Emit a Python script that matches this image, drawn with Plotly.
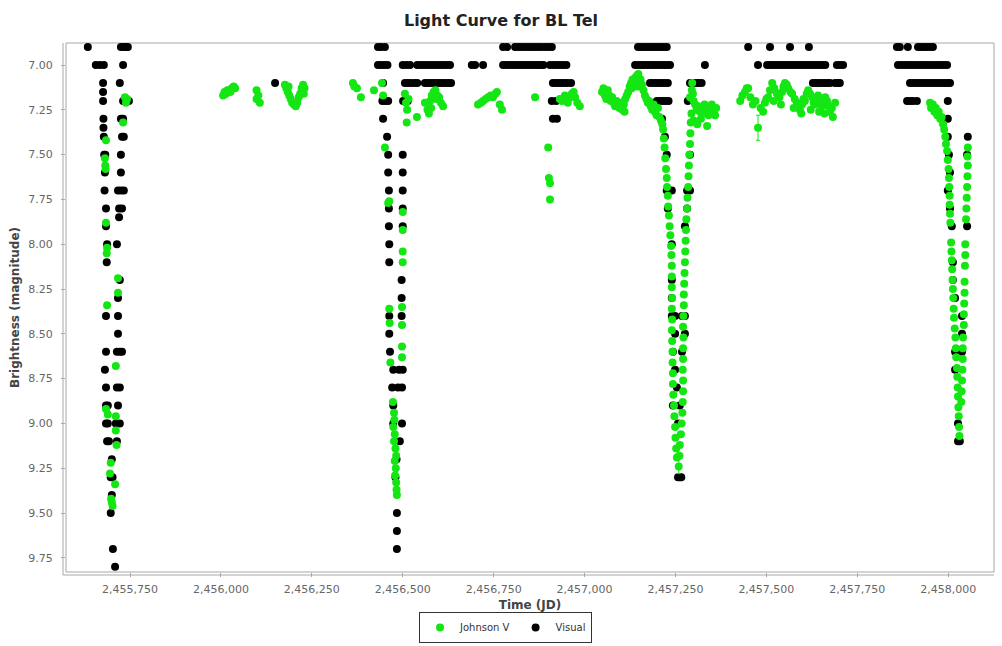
import plotly.graph_objects as go

# ---------------------------------------------------------------
# BL Tel observations: (Julian Date, magnitude) per observing season
# ---------------------------------------------------------------

# Visual estimates
visual_season1 = [
    (2455634, 6.9),
    (2455656, 7.0), (2455667, 7.0), (2455678, 7.0),
    (2455676, 7.1), (2455676, 7.15), (2455676, 7.2), (2455677, 7.3), (2455677, 7.35),
    (2455678, 7.4), (2455679, 7.5), (2455682, 7.5), (2455681, 7.6), (2455680, 7.7),
    (2455684, 7.8), (2455684, 7.9), (2455687, 8.0), (2455686, 8.1), (2455684, 8.4),
    (2455684, 8.6), (2455681, 8.7), (2455684, 8.8), (2455684, 8.9), (2455689, 8.9),
    (2455684, 9.0), (2455689, 9.0), (2455687, 9.1), (2455692, 9.1), (2455700, 9.2),
    (2455697, 9.3), (2455702, 9.3), (2455700, 9.4), (2455697, 9.5), (2455703, 9.7),
    (2455709, 9.8),
    (2455725, 6.9), (2455733, 6.9), (2455739, 6.9), (2455744, 6.9), (2455731, 7.0),
    (2455722, 7.1), (2455731, 7.2), (2455742, 7.2), (2455747, 7.2), (2455725, 7.3),
    (2455731, 7.3), (2455728, 7.4), (2455733, 7.4), (2455725, 7.5), (2455725, 7.6),
    (2455717, 7.7), (2455725, 7.7), (2455733, 7.7), (2455720, 7.8), (2455728, 7.8),
    (2455720, 7.85), (2455714, 8.0), (2455722, 8.2), (2455717, 8.3), (2455717, 8.4),
    (2455717, 8.5), (2455714, 8.6), (2455722, 8.6), (2455728, 8.6), (2455714, 8.8),
    (2455722, 8.8), (2455717, 8.9), (2455711, 9.0), (2455722, 9.0), (2455714, 9.1),
]

visual_season2 = [(2456149, 7.1)]

visual_season3 = [
    (2456432, 6.9), (2456440, 6.9), (2456451, 6.9),
    (2456432, 7.0), (2456440, 7.0), (2456449, 7.0), (2456458, 7.0),
    (2456446, 7.1), (2456444, 7.2), (2456452, 7.2), (2456460, 7.2), (2456446, 7.3),
    (2456457, 7.4), (2456460, 7.5), (2456460, 7.6), (2456462, 7.7), (2456462, 7.8),
    (2456462, 7.9), (2456463, 8.0), (2456463, 8.1), (2456463, 8.4), (2456463, 8.5),
    (2456465, 8.6), (2456474, 8.7), (2456490, 8.7), (2456500, 8.7), (2456471, 8.8),
    (2456487, 8.8), (2456498, 8.8), (2456474, 8.9), (2456474, 9.0), (2456498, 9.0),
    (2456492, 9.1), (2456483, 9.2), (2456480, 9.3), (2456484, 9.5), (2456484, 9.6),
    (2456484, 9.7),
    (2456500, 7.5), (2456500, 7.6), (2456500, 7.7), (2456500, 7.8), (2456500, 7.9),
    (2456497, 8.2), (2456497, 8.3), (2456497, 8.4),
    (2456500, 7.0), (2456510, 7.0), (2456520, 7.0),
    (2456540, 7.0), (2456549, 7.0), (2456558, 7.0), (2456567, 7.0), (2456576, 7.0),
    (2456585, 7.0), (2456594, 7.0), (2456603, 7.0), (2456612, 7.0), (2456621, 7.0),
    (2456630, 7.0), (2456690, 7.0), (2456699, 7.0), (2456721, 7.0),
    (2456776, 7.0), (2456784, 7.0), (2456792, 7.0), (2456800, 7.0), (2456808, 7.0),
    (2456816, 7.0), (2456824, 7.0), (2456832, 7.0), (2456840, 7.0), (2456848, 7.0),
    (2456856, 7.0), (2456864, 7.0), (2456872, 7.0), (2456880, 7.0), (2456887, 7.0),
    (2456905, 7.0), (2456914, 7.0), (2456923, 7.0), (2456932, 7.0), (2456941, 7.0),
    (2456950, 7.0),
    (2456506, 7.1), (2456514, 7.1), (2456522, 7.1), (2456532, 7.1), (2456540, 7.1),
    (2456561, 7.1), (2456569, 7.1), (2456577, 7.1), (2456585, 7.1), (2456593, 7.1),
    (2456601, 7.1), (2456609, 7.1), (2456617, 7.1), (2456625, 7.1), (2456633, 7.1),
    (2456913, 7.1), (2456921, 7.1), (2456929, 7.1), (2456937, 7.1), (2456945, 7.1),
    (2456953, 7.1), (2456963, 7.1),
    (2456776, 6.9), (2456787, 6.9), (2456809, 6.9), (2456818, 6.9), (2456827, 6.9),
    (2456836, 6.9), (2456845, 6.9), (2456854, 6.9), (2456863, 6.9), (2456872, 6.9),
    (2456881, 6.9), (2456891, 6.9), (2456900, 6.9), (2456910, 6.9),
    (2456501, 7.2), (2456514, 7.2), (2456910, 7.2), (2456922, 7.2), (2456952, 7.2),
    (2456913, 7.3), (2456924, 7.3),
]

visual_season4 = [
    (2457147, 6.9), (2457155, 6.9), (2457163, 6.9), (2457171, 6.9), (2457179, 6.9),
    (2457187, 6.9), (2457195, 6.9), (2457203, 6.9), (2457211, 6.9), (2457219, 6.9),
    (2457226, 6.9),
    (2457139, 7.0), (2457147, 7.0), (2457155, 7.0), (2457163, 7.0), (2457171, 7.0),
    (2457179, 7.0), (2457187, 7.0), (2457195, 7.0), (2457203, 7.0), (2457211, 7.0),
    (2457219, 7.0), (2457227, 7.0), (2457235, 7.0), (2457331, 7.0),
    (2457180, 7.1), (2457188, 7.1), (2457196, 7.1), (2457204, 7.1), (2457212, 7.1),
    (2457220, 7.1), (2457229, 7.1), (2457290, 7.1), (2457298, 7.1), (2457306, 7.1),
    (2457314, 7.1), (2457322, 7.1),
    (2457199, 7.2), (2457207, 7.2), (2457215, 7.2), (2457223, 7.2), (2457231, 7.2),
    (2457284, 7.2),
    (2457213, 7.3), (2457221, 7.4), (2457226, 7.5), (2457290, 7.5),
    (2457226, 7.7), (2457240, 7.7), (2457282, 7.7), (2457290, 7.7),
    (2457229, 7.8), (2457282, 7.8), (2457276, 7.9), (2457240, 8.0),
    (2457240, 8.2), (2457240, 8.3), (2457240, 8.4), (2457249, 8.4), (2457268, 8.4),
    (2457276, 8.4), (2457249, 8.5), (2457276, 8.5), (2457243, 8.6), (2457268, 8.6),
    (2457249, 8.7), (2457254, 8.8), (2457243, 8.9), (2457262, 8.9), (2457257, 9.0),
    (2457257, 9.3), (2457262, 9.3), (2457266, 9.3),
]

visual_season5 = [
    (2457450, 6.9), (2457510, 6.9), (2457565, 6.9), (2457617, 6.9),
    (2457477, 7.0), (2457502, 7.0), (2457510, 7.0), (2457518, 7.0), (2457526, 7.0),
    (2457534, 7.0), (2457542, 7.0), (2457550, 7.0), (2457558, 7.0), (2457566, 7.0),
    (2457574, 7.0), (2457582, 7.0), (2457590, 7.0), (2457598, 7.0), (2457606, 7.0),
    (2457614, 7.0), (2457622, 7.0), (2457630, 7.0), (2457638, 7.0), (2457646, 7.0),
    (2457654, 7.0), (2457662, 7.0), (2457694, 7.0), (2457702, 7.0), (2457711, 7.0),
    (2457628, 7.1), (2457636, 7.1), (2457644, 7.1), (2457652, 7.1), (2457660, 7.1),
    (2457668, 7.1), (2457675, 7.1), (2457689, 7.1), (2457697, 7.1), (2457702, 7.1),
]

visual_season6 = [
    (2457859, 6.9), (2457867, 6.9), (2457889, 6.9), (2457917, 6.9), (2457925, 6.9),
    (2457933, 6.9), (2457941, 6.9), (2457950, 6.9), (2457958, 6.9),
    (2457862, 7.0), (2457871, 7.0), (2457880, 7.0), (2457889, 7.0), (2457898, 7.0),
    (2457907, 7.0), (2457916, 7.0), (2457925, 7.0), (2457934, 7.0), (2457943, 7.0),
    (2457952, 7.0), (2457961, 7.0), (2457970, 7.0), (2457979, 7.0), (2457988, 7.0),
    (2457997, 7.0),
    (2457895, 7.1), (2457903, 7.1), (2457911, 7.1), (2457919, 7.1), (2457927, 7.1),
    (2457935, 7.1), (2457943, 7.1), (2457951, 7.1), (2457959, 7.1), (2457967, 7.1),
    (2457975, 7.1), (2457983, 7.1), (2457991, 7.1), (2457999, 7.1), (2458005, 7.1),
    (2457887, 7.2), (2457895, 7.2), (2457903, 7.2), (2457914, 7.2), (2457999, 7.2),
    (2457999, 7.3), (2457999, 7.4), (2458054, 7.4), (2458002, 7.5), (2458052, 7.5),
    (2458005, 7.6), (2457999, 7.7), (2458005, 7.8), (2458010, 7.9), (2458052, 7.9),
    (2458013, 8.1), (2458013, 8.2), (2458019, 8.3), (2458038, 8.4), (2458038, 8.5),
    (2458019, 8.6), (2458038, 8.6), (2458019, 8.7), (2458027, 9.0), (2458027, 9.1),
    (2458032, 9.1),
]

# Johnson V photometry
johnson_v_season1 = [
    (2455684, 7.42), (2455681, 7.52), (2455682, 7.56), (2455683, 7.58), (2455684, 7.88),
    (2455687, 8.02), (2455686, 8.05), (2455687, 8.34), (2455684, 8.92), (2455689, 8.95),
    (2455697, 9.22), (2455695, 9.28), (2455698, 9.42), (2455700, 9.44), (2455702, 9.46),
    (2455736, 7.18), (2455742, 7.19), (2455739, 7.21), (2455731, 7.32), (2455717, 8.19),
    (2455717, 8.27), (2455711, 8.68), (2455711, 8.96), (2455711, 9.04), (2455713, 9.12),
    (2455709, 9.34),
]

johnson_v_season2 = [
    (2456006, 7.17), (2456010, 7.15), (2456014, 7.16), (2456018, 7.14), (2456022, 7.14),
    (2456026, 7.15), (2456030, 7.13), (2456035, 7.12), (2456039, 7.13),
    (2456098, 7.14), (2456098, 7.19), (2456103, 7.17), (2456107, 7.21),
    (2456176, 7.11), (2456180, 7.13), (2456184, 7.15), (2456188, 7.17), (2456192, 7.19),
    (2456196, 7.21), (2456201, 7.22), (2456206, 7.23), (2456210, 7.21), (2456214, 7.18),
    (2456218, 7.16), (2456222, 7.13), (2456226, 7.11), (2456230, 7.13), (2456186, 7.12),
    (2456228, 7.16),
]

johnson_v_season3 = [
    (2456363, 7.10), (2456367, 7.12), (2456374, 7.13), (2456385, 7.18), (2456421, 7.14),
    (2456443, 7.10), (2456446, 7.17),
    (2456451, 7.46), (2456460, 7.77), (2456463, 7.76), (2456500, 7.82), (2456500, 7.92),
    (2456500, 8.04), (2456500, 8.10), (2456463, 8.36), (2456464, 8.44), (2456498, 8.35),
    (2456498, 8.45), (2456498, 8.57), (2456498, 8.63), (2456466, 8.66), (2456473, 8.88),
    (2456476, 8.94), (2456477, 8.98), (2456474, 9.02), (2456478, 9.06), (2456476, 9.10),
    (2456480, 9.14), (2456482, 9.18), (2456478, 9.21), (2456481, 9.25), (2456479, 9.29),
    (2456482, 9.33), (2456483, 9.37), (2456484, 9.40),
    (2456506, 7.16), (2456509, 7.21), (2456512, 7.25), (2456516, 7.19), (2456511, 7.32),
    (2456539, 7.29), (2456561, 7.21), (2456568, 7.25), (2456575, 7.20), (2456580, 7.17),
    (2456585, 7.15), (2456590, 7.14), (2456595, 7.17), (2456600, 7.18), (2456605, 7.21),
    (2456611, 7.23), (2456572, 7.27), (2456578, 7.24), (2456592, 7.19),
    (2456707, 7.22), (2456715, 7.21), (2456721, 7.20), (2456728, 7.19), (2456735, 7.18),
    (2456742, 7.17), (2456748, 7.18), (2456755, 7.16), (2456759, 7.15), (2456767, 7.22),
    (2456773, 7.25),
    (2456864, 7.18),
    (2456900, 7.46), (2456902, 7.63), (2456905, 7.66), (2456905, 7.75),
    (2456932, 7.19), (2456938, 7.20), (2456946, 7.17), (2456954, 7.21), (2456960, 7.18),
    (2456965, 7.16), (2456970, 7.15), (2456974, 7.18), (2456980, 7.21), (2456987, 7.23),
]

johnson_v_season4 = [
    (2457048, 7.15), (2457052, 7.13), (2457056, 7.17), (2457060, 7.19), (2457064, 7.14),
    (2457068, 7.17), (2457072, 7.20), (2457076, 7.18), (2457080, 7.21), (2457084, 7.23),
    (2457088, 7.20), (2457092, 7.22), (2457096, 7.24), (2457100, 7.21), (2457104, 7.25),
    (2457108, 7.22), (2457112, 7.19), (2457116, 7.17), (2457120, 7.15), (2457124, 7.12),
    (2457128, 7.10), (2457132, 7.08), (2457136, 7.11), (2457140, 7.07), (2457144, 7.06),
    (2457148, 7.05), (2457150, 7.09), (2457154, 7.08), (2457158, 7.11), (2457162, 7.14),
    (2457166, 7.17), (2457170, 7.19), (2457174, 7.21), (2457178, 7.20), (2457182, 7.23),
    (2457186, 7.25), (2457190, 7.22), (2457194, 7.26), (2457198, 7.28), (2457202, 7.24),
    (2457206, 7.29), (2457210, 7.31), (2457214, 7.33), (2457130, 7.13), (2457142, 7.10),
    (2457146, 7.12), (2457110, 7.26),
    (2457216, 7.36), (2457218, 7.41), (2457220, 7.46), (2457222, 7.52), (2457224, 7.58),
    (2457226, 7.63), (2457227, 7.68), (2457229, 7.73), (2457230, 7.79), (2457232, 7.84),
    (2457234, 7.90), (2457236, 7.95), (2457238, 8.01), (2457239, 8.06), (2457240, 8.12),
    (2457240, 8.18), (2457240, 8.24), (2457241, 8.30), (2457240, 8.36), (2457241, 8.42),
    (2457240, 8.48), (2457241, 8.54), (2457242, 8.60), (2457242, 8.66), (2457243, 8.72),
    (2457243, 8.78), (2457244, 8.84), (2457246, 8.90), (2457247, 8.96), (2457249, 9.02),
    (2457250, 9.08), (2457252, 9.14), (2457254, 9.19),
    (2457261, 9.18), (2457262, 9.12), (2457265, 9.06), (2457267, 9.00),
    (2457269, 8.94), (2457270, 8.88), (2457271, 8.82), (2457271, 8.76), (2457270, 8.70),
    (2457271, 8.64), (2457271, 8.58), (2457272, 8.52), (2457271, 8.46), (2457272, 8.40),
    (2457273, 8.34), (2457273, 8.28), (2457274, 8.22), (2457275, 8.16), (2457276, 8.10),
    (2457277, 8.04), (2457278, 7.98), (2457279, 7.92), (2457280, 7.86), (2457282, 7.80),
    (2457283, 7.74), (2457285, 7.68), (2457286, 7.62), (2457287, 7.56), (2457288, 7.50),
    (2457290, 7.44), (2457291, 7.38), (2457292, 7.32), (2457294, 7.27),
    (2457290, 7.18), (2457295, 7.14), (2457298, 7.16), (2457300, 7.20), (2457304, 7.22),
    (2457308, 7.25), (2457312, 7.23), (2457317, 7.26), (2457320, 7.30), (2457323, 7.27),
    (2457326, 7.24), (2457330, 7.22), (2457335, 7.25), (2457337, 7.34), (2457341, 7.28),
    (2457345, 7.24), (2457350, 7.22), (2457355, 7.25), (2457359, 7.28), (2457362, 7.24),
    (2457300, 7.31), (2457310, 7.33), (2457296, 7.10),
]

johnson_v_season5 = [
    (2457428, 7.20), (2457434, 7.17), (2457441, 7.15), (2457446, 7.13), (2457450, 7.13),
    (2457456, 7.18), (2457463, 7.22), (2457470, 7.20), (2457484, 7.24), (2457491, 7.26),
    (2457496, 7.21), (2457500, 7.19), (2457505, 7.18), (2457510, 7.14), (2457516, 7.10),
    (2457522, 7.13), (2457529, 7.16), (2457536, 7.18), (2457543, 7.15), (2457547, 7.12),
    (2457551, 7.10), (2457556, 7.11), (2457560, 7.13), (2457566, 7.15), (2457571, 7.16),
    (2457578, 7.19), (2457584, 7.21), (2457588, 7.23), (2457592, 7.25), (2457598, 7.22),
    (2457602, 7.19), (2457606, 7.20), (2457611, 7.16), (2457615, 7.14), (2457620, 7.16),
    (2457626, 7.18), (2457630, 7.21), (2457634, 7.22), (2457638, 7.19), (2457642, 7.17),
    (2457647, 7.20), (2457653, 7.23), (2457658, 7.21), (2457662, 7.18), (2457667, 7.20),
    (2457671, 7.23), (2457675, 7.26), (2457680, 7.24), (2457683, 7.29), (2457689, 7.21),
    (2457520, 7.20), (2457540, 7.22), (2457575, 7.24), (2457596, 7.27), (2457622, 7.25),
    (2457645, 7.26), (2457660, 7.27),
]

johnson_v_season6 = [
    (2457950, 7.21), (2457953, 7.24), (2457958, 7.22), (2457962, 7.26), (2457966, 7.24),
    (2457970, 7.28), (2457974, 7.26), (2457978, 7.30), (2457982, 7.29), (2457986, 7.33),
    (2457989, 7.36), (2457992, 7.40), (2457994, 7.44),
    (2457997, 7.48), (2457999, 7.53), (2458001, 7.58), (2458002, 7.63), (2458003, 7.68),
    (2458004, 7.73), (2458004, 7.78), (2458005, 7.83), (2458006, 7.88), (2458008, 7.99),
    (2458009, 8.04), (2458010, 8.09), (2458011, 8.14), (2458012, 8.20), (2458013, 8.25),
    (2458014, 8.30), (2458015, 8.36), (2458016, 8.41), (2458018, 8.47), (2458020, 8.52),
    (2458021, 8.58), (2458022, 8.63), (2458024, 8.69), (2458025, 8.74), (2458026, 8.80),
    (2458027, 8.85), (2458028, 8.91), (2458029, 8.96), (2458030, 9.02), (2458031, 9.07),
    (2458054, 7.46), (2458053, 7.51), (2458054, 7.56), (2458053, 7.62), (2458052, 7.68),
    (2458051, 7.74), (2458050, 7.80), (2458049, 7.86), (2458047, 8.00), (2458047, 8.06),
    (2458046, 8.12), (2458045, 8.21), (2458045, 8.27), (2458044, 8.33), (2458043, 8.39),
    (2458043, 8.45), (2458041, 8.52), (2458040, 8.58), (2458040, 8.64), (2458039, 8.70),
    (2458038, 8.76), (2458037, 8.82), (2458036, 8.88),
]

# Johnson V points carrying a plotted uncertainty: (JD, magnitude, error)
johnson_v_with_error = [
    (2457477, 7.35, 0.07),
    (2457259, 9.24, 0.04),
]

# Axis ticks
x_tick_values = [2455750, 2456000, 2456250, 2456500, 2456750,
                 2457000, 2457250, 2457500, 2457750, 2458000]
y_tick_values = [7.00, 7.25, 7.50, 7.75, 8.00, 8.25, 8.50, 8.75, 9.00, 9.25, 9.50, 9.75]

# ---------------------------------------------------------------
visual = (visual_season1 + visual_season2 + visual_season3 +
          visual_season4 + visual_season5 + visual_season6)
johnson = (johnson_v_season1 + johnson_v_season2 + johnson_v_season3 +
           johnson_v_season4 + johnson_v_season5 + johnson_v_season6)

vis_jd = [p[0] for p in visual]
vis_mag = [p[1] for p in visual]

jv_jd = [p[0] for p in johnson] + [p[0] for p in johnson_v_with_error]
jv_mag = [p[1] for p in johnson] + [p[1] for p in johnson_v_with_error]
jv_err = [0.0] * len(johnson) + [p[2] for p in johnson_v_with_error]

GREEN = "#14e614"
FONT = "Tahoma, 'DejaVu Sans', Verdana, sans-serif"

fig = go.Figure()

fig.add_trace(go.Scatter(
    x=vis_jd, y=vis_mag, mode="markers", name="Visual", legendrank=2,
    marker=dict(color="#000000", size=8, line=dict(width=0)),
))
fig.add_trace(go.Scatter(
    x=jv_jd, y=jv_mag, mode="markers", name="Johnson V", legendrank=1,
    marker=dict(color=GREEN, size=8, line=dict(width=0)),
    error_y=dict(type="data", array=jv_err, visible=True,
                 color=GREEN, thickness=1, width=2),
))

# plot outline plus offset axis lines
px_w, px_h = 928.0, 529.0
off_x, off_y = 3 / px_w, 3 / px_h
fig.add_shape(type="rect", xref="paper", yref="paper", x0=0, x1=1, y0=0, y1=1,
              line=dict(color="#a8a8a8", width=1), layer="below")
fig.add_shape(type="line", xref="paper", yref="paper", x0=-off_x, x1=-off_x, y0=-off_y, y1=1,
              line=dict(color="#a8a8a8", width=1))
fig.add_shape(type="line", xref="paper", yref="paper", x0=-off_x, x1=1, y0=-off_y, y1=-off_y,
              line=dict(color="#a8a8a8", width=1))

fig.update_layout(
    width=1002, height=646,
    margin=dict(l=66, r=8, t=43, b=74, autoexpand=False),
    paper_bgcolor="white", plot_bgcolor="white",
    font=dict(family=FONT, size=11, color="#555555"),
    title=dict(text="<b>Light Curve for BL Tel</b>", x=0.5, xref="container",
               xanchor="center", y=1 - 20 / 646, yref="container", yanchor="middle",
               font=dict(family=FONT, size=16, color="#222222")),
    showlegend=True,
    legend=dict(orientation="h", x=0.5045, xref="container", xanchor="center",
                y=3 / 646, yref="container", yanchor="bottom",
                bordercolor="#333333", borderwidth=1, bgcolor="white",
                font=dict(family=FONT, size=10, color="#333333"),
                itemwidth=30, tracegroupgap=0),
)

fig.update_xaxes(
    range=[2455574, 2458126], showgrid=False, zeroline=False, showline=False,
    automargin=False,
    tickmode="array", tickvals=x_tick_values, tickformat=",d",
    ticks="outside", ticklen=4, tickcolor="#a8a8a8", ticklabelstandoff=3,
    tickfont=dict(family=FONT, size=11, color="#666666"),
    title=dict(text="<b>Time (JD)</b>", standoff=6,
               font=dict(family=FONT, size=12, color="#444444")),
)
fig.update_yaxes(
    range=[9.829, 6.877], showgrid=False, zeroline=False, showline=False,
    automargin=False,
    tickmode="array", tickvals=y_tick_values, tickformat=".2f",
    ticks="outside", ticklen=4, tickcolor="#a8a8a8", ticklabelstandoff=6,
    tickfont=dict(family=FONT, size=11, color="#666666"),
    title=dict(text="<b>Brightness (magnitude)</b>", standoff=6,
               font=dict(family=FONT, size=12, color="#444444")),
)

fig.write_html("out.html")
